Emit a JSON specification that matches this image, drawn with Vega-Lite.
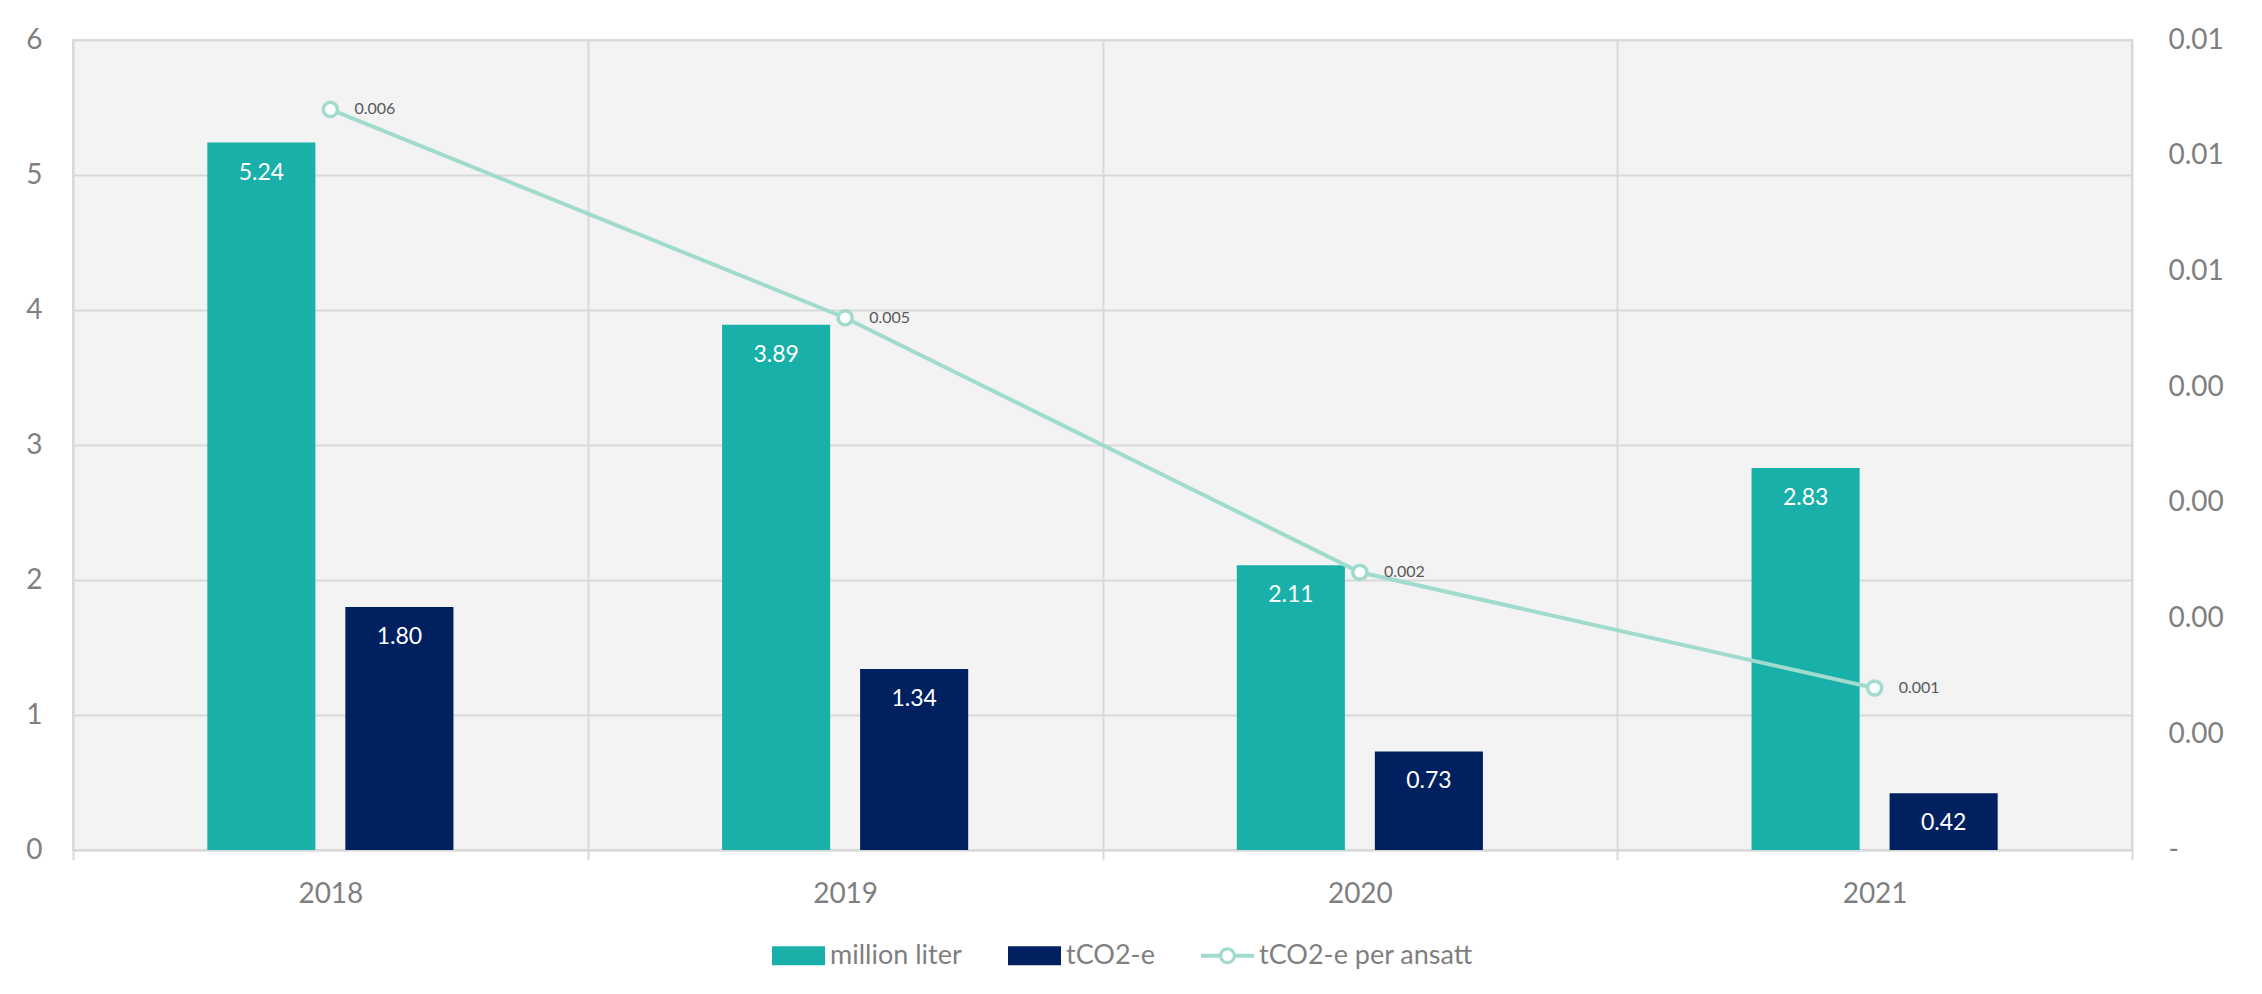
{
  "$schema": "https://vega.github.io/schema/vega-lite/v6.json",
  "width": 2059,
  "height": 810,
  "autosize": {"type": "none"},
  "padding": {"left": 73, "top": 40, "right": 130, "bottom": 144},
  "background": "white",
  "config": {
    "font": "Lato",
    "view": {"fill": "#f3f3f3", "stroke": "#d9d9d9", "strokeWidth": 2},
    "axis": {"labelFont": "Lato", "labelFontSize": 28, "labelColor": "#7f7f7f", "gridColor": "#d9d9d9", "gridWidth": 2, "domain": false, "ticks": false, "title": null}
  },
  "data": {
    "values": [
      {"year": "2018", "series": "million liter", "value": 5.24},
      {"year": "2018", "series": "tCO2-e", "value": 1.80},
      {"year": "2019", "series": "million liter", "value": 3.89},
      {"year": "2019", "series": "tCO2-e", "value": 1.34},
      {"year": "2020", "series": "million liter", "value": 2.11},
      {"year": "2020", "series": "tCO2-e", "value": 0.73},
      {"year": "2021", "series": "million liter", "value": 2.83},
      {"year": "2021", "series": "tCO2-e", "value": 0.42},
      {"year": "2018", "series": "tCO2-e per ansatt", "value": 0.0064},
      {"year": "2019", "series": "tCO2-e per ansatt", "value": 0.0046},
      {"year": "2020", "series": "tCO2-e per ansatt", "value": 0.0024},
      {"year": "2021", "series": "tCO2-e per ansatt", "value": 0.0014}
    ]
  },
  "layer": [
    {
      "transform": [{"filter": "datum.series !== 'tCO2-e per ansatt'"}],
      "encoding": {
        "x": {
          "field": "year", "type": "nominal",
          "scale": {"paddingInner": 0, "paddingOuter": 0},
          "axis": {"tickBand": "extent", "ticks": true, "tickSize": 10, "tickColor": "#d9d9d9", "tickWidth": 2, "domain": true, "domainColor": "#d9d9d9", "domainWidth": 2, "grid": true, "labelAngle": 0, "labelPadding": 20}
        },
        "xOffset": {"field": "series", "type": "nominal", "scale": {"domain": ["million liter", "tCO2-e"], "paddingInner": 0.217, "paddingOuter": 0.973}},
        "y": {
          "field": "value", "type": "quantitative",
          "scale": {"domain": [0, 6], "nice": false},
          "axis": {"values": [0, 1, 2, 3, 4, 5, 6], "grid": true, "labelPadding": 31}
        }
      },
      "layer": [
        {
          "mark": {"type": "bar"},
          "encoding": {
            "color": {
              "field": "series", "type": "nominal",
              "scale": {"domain": ["million liter", "tCO2-e", "tCO2-e per ansatt"], "range": ["#18b0a9", "#002060", "#a0dbce"]},
              "legend": {
                "orient": "none", "legendX": 699, "legendY": 889, "direction": "horizontal", "title": null,
                "labelFont": "Lato", "labelFontSize": 27, "labelColor": "#7f7f7f", "labelOffset": 5, "labelLimit": 0,
                "columnPadding": 46, "symbolSize": 2809, "symbolStrokeWidth": 0,
                "encode": {
                  "symbols": {
                    "update": {
                      "shape": {"signal": "datum.value === 'tCO2-e per ansatt' ? 'M-1,-0.08H-0.3V0.08H-1Z M0.3,-0.08H1V0.08H0.3Z M0.32,0A0.32,0.32,0,1,1,-0.32,0A0.32,0.32,0,1,1,0.32,0Z M0.2,0A0.2,0.2,0,1,0,-0.2,0A0.2,0.2,0,1,0,0.2,0Z' : 'M-1,-0.36H1V0.36H-1Z'"},
                      "fill": {"signal": "datum.value === 'tCO2-e per ansatt' ? '#a0dbce' : (datum.value === 'tCO2-e' ? '#002060' : '#18b0a9')"},
                      "strokeWidth": {"value": 0},
                      "size": {"value": 2809},
                      "opacity": {"value": 1}
                    }
                  }
                }
              }
            }
          }
        },
        {
          "mark": {"type": "text", "baseline": "middle", "dy": 30, "fontSize": 23, "font": "Lato", "fill": "white"},
          "encoding": {"text": {"field": "value", "type": "quantitative", "format": ".2f"}}
        }
      ]
    },
    {
      "transform": [{"filter": "datum.series === 'tCO2-e per ansatt'"}],
      "encoding": {
        "x": {"field": "year", "type": "nominal"},
        "y": {
          "field": "value", "type": "quantitative",
          "scale": {"domain": [0, 0.007], "nice": false},
          "axis": {"orient": "right", "grid": false, "values": [0, 0.001, 0.002, 0.003, 0.004, 0.005, 0.006, 0.007], "labelExpr": "datum.value == 0 ? '-' : format(datum.value, '.2f')", "labelPadding": 36, "labelAlign": "left"}
        }
      },
      "layer": [
        {
          "mark": {"type": "line", "strokeWidth": 4, "point": {"filled": false, "fill": "white", "size": 200, "strokeWidth": 3.5}},
          "encoding": {"color": {"field": "series", "type": "nominal"}}
        },
        {
          "mark": {"type": "text", "align": "left", "baseline": "middle", "dx": 24, "fontSize": 16, "font": "Lato", "fill": "#595959"},
          "encoding": {"text": {"field": "value", "type": "quantitative", "format": ".3f"}}
        }
      ]
    }
  ],
  "resolve": {"scale": {"y": "independent"}}
}
